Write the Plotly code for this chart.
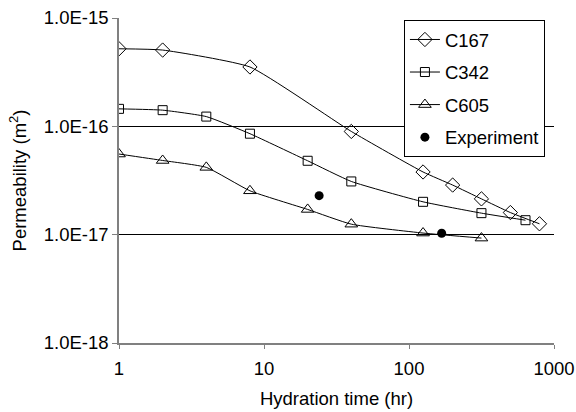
import plotly.graph_objects as go

# Data
c167_x = [1, 2, 8, 40, 125, 200, 316, 500, 794]
c167_y = [5.2e-16, 5.06e-16, 3.53e-16, 8.97e-17, 3.79e-17, 2.87e-17, 2.14e-17, 1.60e-17, 1.26e-17]

c342_x = [1, 2, 4, 8, 20, 40, 125, 316, 636]
c342_y = [1.45e-16, 1.41e-16, 1.23e-16, 8.55e-17, 4.81e-17, 3.10e-17, 2.01e-17, 1.58e-17, 1.36e-17]

c605_x = [1, 2, 4, 8, 20, 40, 125, 316]
c605_y = [5.55e-17, 4.84e-17, 4.18e-17, 2.54e-17, 1.71e-17, 1.25e-17, 1.035e-17, 9.3e-18]

exp_x = [24, 168]
exp_y = [2.29e-17, 1.03e-17]

y_tickvals = [1e-18, 1e-17, 1e-16, 1e-15]
y_ticktext = ["1.0E-18", "1.0E-17", "1.0E-16", "1.0E-15"]
x_tickvals = [1, 10, 100, 1000]
x_ticktext = ["1", "10", "100", "1000"]

FONT = "Liberation Sans, Arial, sans-serif"
FS = 18.5

fig = go.Figure()
line_style = dict(color="black", width=1, shape="spline", smoothing=0.45)

fig.add_trace(go.Scatter(x=c167_x, y=c167_y, name="C167", mode="lines+markers",
                         line=line_style, legendgroup="a",
                         marker=dict(symbol="diamond-open", size=11, color="black", line=dict(width=1))))
fig.add_trace(go.Scatter(x=c342_x, y=c342_y, name="C342", mode="lines+markers",
                         line=line_style, legendgroup="b",
                         marker=dict(symbol="square-open", size=9, color="black", line=dict(width=1))))
fig.add_trace(go.Scatter(x=c605_x, y=c605_y, name="C605", mode="lines+markers",
                         line=line_style, legendgroup="c",
                         marker=dict(symbol="triangle-up-open", size=11, color="black", line=dict(width=1))))
fig.add_trace(go.Scatter(x=exp_x, y=exp_y, name="Experiment", mode="markers",
                         legendgroup="d",
                         marker=dict(symbol="circle", size=9, color="black")))

fig.update_layout(
    width=576, height=412,
    margin=dict(l=118.5, r=22, t=18, b=69),
    paper_bgcolor="white", plot_bgcolor="white",
    font=dict(family=FONT, size=FS, color="black"),
    showlegend=True,
    legend=dict(x=0.655, y=0.994, xanchor="left", yanchor="top",
                bgcolor="white", bordercolor="black", borderwidth=1,
                font=dict(family=FONT, size=FS, color="black"),
                tracegroupgap=5.5),
    xaxis=dict(type="log", range=[0, 3], tickvals=x_tickvals, ticktext=x_ticktext,
               showgrid=False, zeroline=False, automargin=False,
               showline=True, linecolor="#808080", linewidth=1.5,
               ticks="outside", ticklen=4, tickcolor="#808080", tickwidth=1,
               ticklabelstandoff=4,
               tickfont=dict(size=FS),
               title=dict(text="Hydration time (hr)", font=dict(size=FS), standoff=14)),
    yaxis=dict(type="log", range=[-18, -15], tickvals=y_tickvals, ticktext=y_ticktext,
               showgrid=True, gridcolor="black", gridwidth=1, zeroline=False, automargin=False,
               showline=True, linecolor="#808080", linewidth=1.5,
               ticks="outside", ticklen=5, tickcolor="#808080", tickwidth=1,
               tickfont=dict(size=FS),
               title=dict(text="Permeability (m<sup>2</sup>)", font=dict(size=FS), standoff=12)),
)

fig.write_html("out.html")
